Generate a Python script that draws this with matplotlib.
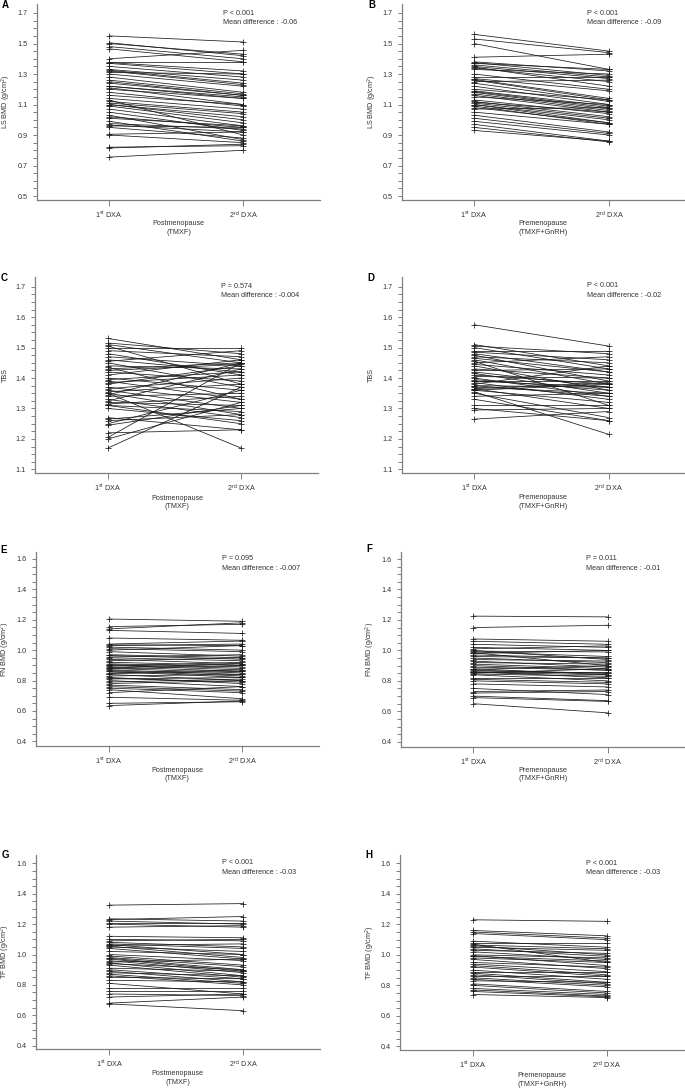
import matplotlib
matplotlib.use("Agg")
import matplotlib.pyplot as plt
import numpy as np

plt.rcParams['font.family'] = ['Liberation Sans', 'DejaVu Sans']
plt.rcParams['mathtext.fontset'] = 'custom'
plt.rcParams['mathtext.rm'] = 'Liberation Sans'
plt.rcParams['mathtext.it'] = 'Liberation Sans:italic'
plt.rcParams['mathtext.bf'] = 'Liberation Sans:bold'

# ---------------- data ----------------
categories = [r'1$^{\mathrm{st}}$ DXA', r'2$^{\mathrm{nd}}$ DXA']

# A: LS BMD, postmenopause
a_first = [1.55, 1.505, 1.50, 1.48, 1.465, 1.40, 1.38, 1.375, 1.37, 1.35, 1.33, 1.325, 1.32, 1.31, 1.30,
           1.28, 1.26, 1.25, 1.24, 1.22, 1.22, 1.21, 1.20, 1.18, 1.16, 1.14, 1.13, 1.12, 1.11, 1.10,
           1.10, 1.09, 1.07, 1.05, 1.03, 1.02, 1.01, 0.99, 0.975, 0.965, 0.96, 0.95, 0.905, 0.90, 0.82,
           0.815, 0.755]
a_second = [1.51, 1.42, 1.43, 1.40, 1.38, 1.455, 1.38, 1.32, 1.30, 1.28, 1.26, 1.24, 1.23, 1.30, 1.22,
            1.18, 1.17, 1.16, 1.16, 1.15, 1.14, 1.10, 1.14, 1.09, 1.10, 1.07, 0.90, 1.05, 1.04, 1.02,
            1.00, 0.98, 0.96, 0.93, 0.87, 0.95, 0.96, 0.86, 0.94, 0.92, 0.95, 0.88, 0.92, 0.85, 0.83,
            0.84, 0.80]

# B: LS BMD, premenopause
b_first = [1.56, 1.53, 1.50, 1.41, 1.38, 1.375, 1.37, 1.36, 1.35, 1.345, 1.34, 1.33, 1.30, 1.28, 1.27,
           1.265, 1.26, 1.25, 1.24, 1.22, 1.20, 1.19, 1.185, 1.18, 1.17, 1.16, 1.15, 1.13, 1.12, 1.115,
           1.11, 1.10, 1.10, 1.09, 1.08, 1.07, 1.05, 1.03, 1.01, 0.99, 0.97, 0.95, 0.93]
b_second = [1.45, 1.44, 1.33, 1.43, 1.32, 1.29, 1.33, 1.28, 1.27, 1.22, 1.25, 1.30, 1.20, 1.28, 1.19,
            1.14, 1.13, 1.26, 1.12, 1.10, 1.13, 1.09, 1.08, 1.07, 1.06, 1.05, 1.10, 1.04, 1.02, 1.05,
            1.01, 1.00, 0.98, 0.97, 0.98, 1.08, 0.97, 0.92, 0.91, 0.90, 0.86, 0.855, 0.86]

# C: TBS, postmenopause
c_first = [1.53, 1.51, 1.505, 1.50, 1.49, 1.48, 1.47, 1.455, 1.45, 1.44, 1.435, 1.43, 1.42, 1.41, 1.40,
           1.395, 1.39, 1.38, 1.37, 1.365, 1.36, 1.35, 1.35, 1.345, 1.34, 1.33, 1.32, 1.315, 1.31, 1.30,
           1.27, 1.265, 1.25, 1.22, 1.205, 1.20, 1.17,
           1.515, 1.46, 1.425, 1.385, 1.355, 1.325, 1.31, 1.26, 1.245]
c_second = [1.46, 1.45, 1.38, 1.50, 1.47, 1.41, 1.44, 1.49, 1.37, 1.43, 1.33, 1.45, 1.39, 1.46, 1.36,
            1.42, 1.33, 1.44, 1.32, 1.40, 1.30, 1.17, 1.28, 1.45, 1.35, 1.27, 1.31, 1.34, 1.25, 1.26,
            1.23, 1.30, 1.36, 1.23, 1.45, 1.32, 1.37,
            1.48, 1.42, 1.445, 1.41, 1.38, 1.43, 1.29, 1.28, 1.31]

# D: TBS, premenopause
d_first = [1.575, 1.51, 1.505, 1.50, 1.49, 1.48, 1.475, 1.47, 1.46, 1.455, 1.45, 1.44, 1.43, 1.425, 1.42,
           1.41, 1.40, 1.395, 1.39, 1.385, 1.38, 1.375, 1.37, 1.365, 1.36, 1.355, 1.35, 1.33, 1.31, 1.30,
           1.295, 1.265,
           1.485, 1.465, 1.445, 1.415, 1.405, 1.39, 1.375, 1.365, 1.36, 1.34]
d_second = [1.505, 1.44, 1.48, 1.43, 1.49, 1.42, 1.39, 1.45, 1.38, 1.31, 1.47, 1.36, 1.40, 1.43, 1.37,
            1.38, 1.34, 1.36, 1.39, 1.33, 1.44, 1.37, 1.35, 1.30, 1.38, 1.215, 1.27, 1.26, 1.31, 1.26,
            1.30, 1.29,
            1.46, 1.42, 1.41, 1.35, 1.40, 1.37, 1.34, 1.385, 1.32, 1.35]

# E: FN BMD, postmenopause
e_first = [1.205, 1.155, 1.14, 1.13, 1.08, 1.04, 1.035, 1.03, 1.02, 1.01, 1.00, 0.99, 0.97, 0.965, 0.95,
           0.94, 0.93, 0.92, 0.91, 0.90, 0.895, 0.89, 0.88, 0.875, 0.87, 0.86, 0.85, 0.84, 0.83, 0.82,
           0.81, 0.80, 0.78, 0.77, 0.76, 0.75, 0.74, 0.72, 0.69, 0.65, 0.635,
           0.955, 0.905, 0.885, 0.865, 0.845, 0.815, 0.79]
e_second = [1.19, 1.17, 1.18, 1.11, 1.065, 1.06, 1.03, 1.04, 1.00, 0.99, 1.03, 0.96, 0.95, 0.94, 0.93,
            0.91, 0.95, 0.90, 0.89, 0.87, 0.92, 0.86, 0.85, 0.90, 0.84, 0.82, 0.87, 0.80, 0.84, 0.78,
            0.82, 0.76, 0.80, 0.74, 0.73, 0.72, 0.68, 0.76, 0.67, 0.66, 0.665,
            0.97, 0.88, 0.91, 0.83, 0.86, 0.79, 0.81]

# F: FN BMD, premenopause
f_first = [1.225, 1.15, 1.075, 1.06, 1.04, 1.02, 1.00, 0.995, 0.99, 0.985, 0.98, 0.97, 0.95, 0.93, 0.91,
           0.90, 0.88, 0.875, 0.87, 0.86, 0.86, 0.855, 0.85, 0.84, 0.82, 0.80, 0.78, 0.75, 0.73, 0.72,
           0.70, 0.69, 0.65,
           1.01, 0.96, 0.94, 0.92, 0.89, 0.865, 0.845, 0.81]
f_second = [1.22, 1.165, 1.06, 1.04, 1.02, 1.00, 0.94, 0.99, 0.96, 0.90, 1.00, 0.95, 0.92, 0.89, 0.88,
            0.87, 0.84, 0.90, 0.85, 0.86, 0.82, 0.84, 0.88, 0.80, 0.82, 0.78, 0.76, 0.71, 0.74, 0.73,
            0.67, 0.665, 0.59,
            1.03, 0.95, 0.93, 0.91, 0.87, 0.85, 0.83, 0.79]

# G: TF BMD, postmenopause
g_first = [1.325, 1.235, 1.23, 1.22, 1.21, 1.20, 1.18, 1.12, 1.10, 1.09, 1.08, 1.07, 1.065, 1.06, 1.055,
           1.05, 1.04, 1.02, 1.00, 0.99, 0.98, 0.975, 0.97, 0.96, 0.95, 0.945, 0.94, 0.93, 0.91, 0.90,
           0.89, 0.88, 0.87, 0.86, 0.85, 0.83, 0.81, 0.78, 0.76, 0.74, 0.72, 0.68, 0.675]
g_second = [1.335, 1.22, 1.25, 1.20, 1.21, 1.18, 1.19, 1.11, 1.09, 1.10, 1.05, 1.04, 1.00, 1.07, 0.98,
            1.02, 0.97, 1.00, 0.96, 0.93, 0.92, 0.90, 0.89, 0.88, 0.97, 0.86, 0.90, 0.85, 0.89, 0.84,
            0.82, 0.86, 0.81, 0.80, 0.84, 0.82, 0.74, 0.78, 0.76, 0.73, 0.74, 0.72, 0.63]

# H: TF BMD, premenopause
h_first = [1.23, 1.16, 1.15, 1.14, 1.09, 1.08, 1.07, 1.065, 1.06, 1.05, 1.04, 1.03, 1.02, 1.00, 0.995,
           0.99, 0.98, 0.97, 0.95, 0.94, 0.93, 0.92, 0.90, 0.89, 0.88, 0.87, 0.86, 0.85, 0.84, 0.83,
           0.81, 0.80, 0.78, 0.77, 0.76, 0.74]
h_second = [1.22, 1.125, 1.11, 1.10, 1.05, 1.08, 0.95, 1.04, 1.00, 1.03, 0.99, 1.01, 0.97, 0.98, 0.93,
            0.96, 0.95, 0.91, 0.92, 0.89, 0.87, 0.86, 0.84, 0.89, 0.82, 0.81, 0.86, 0.80, 0.79, 0.82,
            0.76, 0.75, 0.74, 0.73, 0.725, 0.72]

panel_letters = ['A', 'B', 'C', 'D', 'E', 'F', 'G', 'H']
y_labels = ['LS BMD (g/cm$^{2}$)', 'LS BMD (g/cm$^{2}$)', 'TBS', 'TBS',
            'FN BMD (g/cm$^{2}$)', 'FN BMD (g/cm$^{2}$)', 'TF BMD (g/cm$^{2}$)', 'TF BMD (g/cm$^{2}$)']
group_labels = ['Postmenopause\n(TMXF)', 'Premenopause\n(TMXF+GnRH)'] * 4
p_texts = ['P < 0.001', 'P < 0.001', 'P = 0.574', 'P < 0.001',
           'P = 0.095', 'P = 0.011', 'P < 0.001', 'P < 0.001']
md_texts = ['Mean difference : -0.06', 'Mean difference : -0.09', 'Mean difference : -0.004',
            'Mean difference : -0.02', 'Mean difference : -0.007', 'Mean difference : -0.01',
            'Mean difference : -0.03', 'Mean difference : -0.03']
series = [(a_first, a_second), (b_first, b_second), (c_first, c_second), (d_first, d_second),
          (e_first, e_second), (f_first, f_second), (g_first, g_second), (h_first, h_second)]

# ---------------- layout (pixels) ----------------
W, H = 685, 1088
fig = plt.figure(figsize=(W / 100, H / 100), dpi=100)

# left, right, top, bottom (px)
rects = [(37, 320, 4, 200), (401.7, 685, 4, 200),
         (35, 318, 277, 473.3), (401.7, 685, 277, 473.3),
         (36, 319, 552, 746), (401, 685, 552, 746.5),
         (36, 320, 855, 1049.3), (400, 685, 855, 1050)]
cats_px = [(109, 243), (474, 609), (108, 241), (474.3, 608.7),
           (108.7, 242.3), (473.3, 607.7), (109.3, 243.3), (472.7, 606.7)]
ylims = [(0.474, 1.759), (0.474, 1.759), (1.087, 1.732), (1.087, 1.732),
         (0.369, 1.646), (0.369, 1.646), (0.376, 1.655), (0.376, 1.655)]
major = [(0.5, 1.7, 0.2), (0.5, 1.7, 0.2), (1.1, 1.7, 0.1), (1.1, 1.7, 0.1),
         (0.4, 1.6, 0.2), (0.4, 1.6, 0.2), (0.4, 1.6, 0.2), (0.4, 1.6, 0.2)]
minor_step = [0.05, 0.05, 0.025, 0.025, 0.05, 0.05, 0.05, 0.05]
letter_pos = [(5, 5), (371.7, 5), (4.5, 278), (371, 278), (4, 550), (369, 549), (5, 855), (369.3, 855)]
ylabel_x = [6, 372, 5, 371.7, 5, 370, 5, 370]
group_pos = [(178.7, 228), (543, 228), (177, 502.5), (543, 502), (177, 774.5), (543, 774.5),
             (177.7, 1078.3), (542.3, 1080)]
stat_pos = [(223, 13.3, 22.3), (587.3, 13.3, 22.3), (221, 286, 295.7), (587.3, 285.7, 295.7),
            (221.7, 559, 568.3), (586, 559, 568.3), (222, 862.7, 872), (586, 863.3, 872.7)]

spine_col = '#7f7f7f'
text_col = '#333333'
fs = 5.2

def fx(x):
    return x / W

def fy(y):
    return 1 - y / H

for i in range(8):
    l, r, t, b = rects[i]
    ax = fig.add_axes([fx(l), fy(b), (r - l) / W, (b - t) / H])
    c0, c1 = cats_px[i]
    ax.set_xlim((l - c0) / (c1 - c0), (r - c0) / (c1 - c0))
    ax.set_ylim(*ylims[i])
    first, second = series[i]
    for v1, v2 in zip(first, second):
        ax.plot([0, 1], [v1, v2], color='#1a1a1a', lw=0.55, marker='+', ms=4.5, mew=0.55,
                mec='#1a1a1a', solid_capstyle='butt')
    lo, hi, st = major[i]
    maj = np.round(np.arange(lo, hi + st / 2, st), 3)
    ax.set_yticks(maj)
    ax.set_yticklabels([f'{v:.1f}' for v in maj])
    mn = np.round(np.arange(lo, hi + 1e-9, minor_step[i]), 4)
    ax.set_yticks([m for m in mn if not np.any(np.isclose(m, maj))], minor=True)
    ax.set_xticks([0, 1])
    ax.set_xticklabels(categories)
    for s in ['top', 'right']:
        ax.spines[s].set_visible(False)
    for s in ['left', 'bottom']:
        ax.spines[s].set_color(spine_col)
        ax.spines[s].set_linewidth(0.9)
    ax.tick_params(axis='both', which='both', direction='out', color=spine_col, width=0.7,
                   labelsize=fs, labelcolor=text_col)
    ax.tick_params(axis='y', which='major', length=3.2, pad=3.5)
    ax.tick_params(axis='y', which='minor', length=3.2)
    ax.tick_params(axis='x', which='major', length=4.0, pad=3.0)

    lx, ly = letter_pos[i]
    fig.text(fx(lx), fy(ly), panel_letters[i], fontsize=7, fontweight='bold',
             ha='center', va='center', color='black')
    fig.text(fx(ylabel_x[i]), fy((t + b) / 2), y_labels[i], rotation=90, fontsize=fs,
             ha='center', va='center', color=text_col)
    gx, gy = group_pos[i]
    fig.text(fx(gx), fy(gy), group_labels[i], fontsize=fs, ha='center', va='center',
             color=text_col, linespacing=1.35)
    sx, sy1, sy2 = stat_pos[i]
    fig.text(fx(sx), fy(sy1), p_texts[i], fontsize=fs, ha='left', va='center', color=text_col)
    fig.text(fx(sx), fy(sy2), md_texts[i], fontsize=fs, ha='left', va='center', color=text_col)

fig.savefig('out.png', dpi=100, facecolor='white')
